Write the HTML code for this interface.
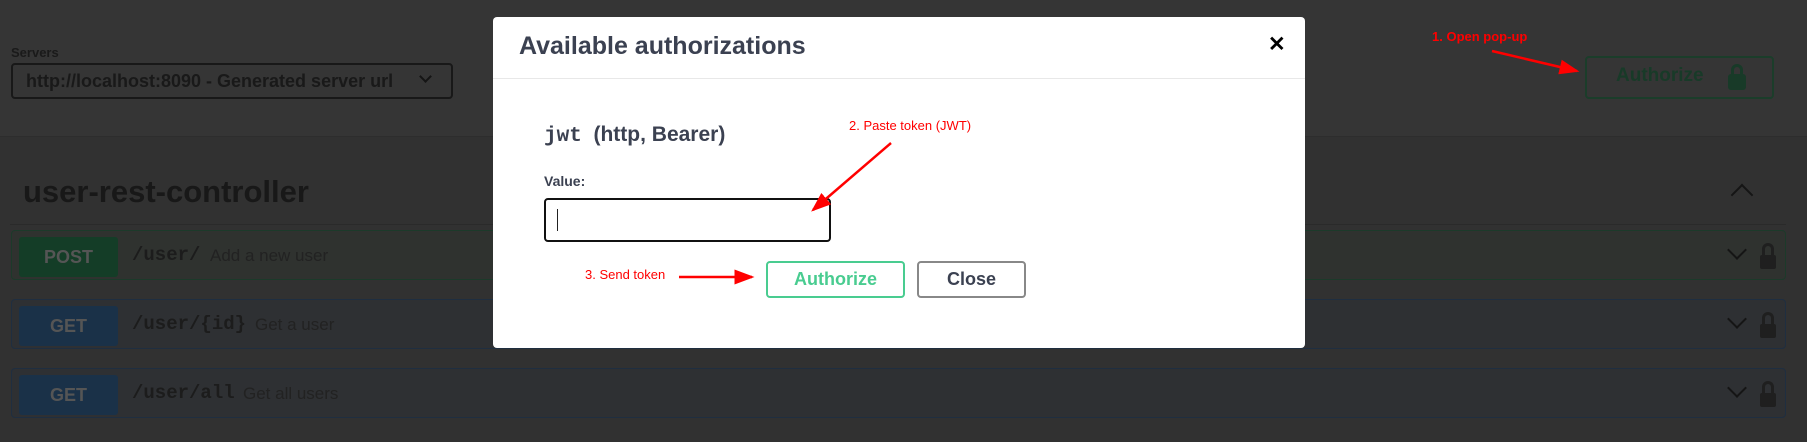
<!DOCTYPE html>
<html><head><meta charset="utf-8"><style>
*{margin:0;padding:0;box-sizing:border-box}
body{width:1807px;height:442px;overflow:hidden;background:#313131;position:relative;font-family:"Liberation Sans",sans-serif}
.a{position:absolute}
.top{left:0;top:0;width:1807px;height:137px;background:#353535;border-bottom:1px solid #2d2d2d}
.row{left:11px;width:1775px;height:50px;border-radius:4px;border:1px solid}
.badge{left:7px;top:6px;width:99px;height:40px;border-radius:3px;color:#555;font-weight:bold;font-size:18px;text-align:center;line-height:40px}
.path{left:120px;top:13px;font-family:"Liberation Mono",monospace;font-weight:bold;font-size:19px;color:#1c1c1c}
.desc{top:15px;font-size:17px;color:#222}
.chev{width:14px;height:14px;border-right:2px solid #151515;border-bottom:2px solid #151515;transform:rotate(45deg)}
.lock{width:16px;height:14px;background:#1f1f1f;border-radius:2px}
.shk{width:12px;height:12px;border:3px solid #1f1f1f;border-bottom:none;border-radius:6px 6px 0 0}
.red{color:#f00;font-size:13px}
</style></head><body>
<div class="a top"></div>
<div class="a" style="left:11px;top:45px;font-size:13px;font-weight:bold;color:#1a1a1a">Servers</div>
<div class="a" style="left:11px;top:63px;width:442px;height:36px;border:2px solid #181818;border-radius:4px"></div>
<div class="a" style="left:26px;top:71px;font-size:18px;font-weight:bold;color:#191919">http://localhost:8090 - Generated server url</div>
<div class="a chev" style="left:421px;top:72px;width:9px;height:9px"></div>

<div class="a" style="left:1585px;top:56px;width:189px;height:43px;border:2px solid #1b3d2a;border-radius:4px"></div>
<div class="a" style="left:1616px;top:65px;font-size:19px;font-weight:bold;color:#183a28">Authorize</div>
<div class="a" style="left:1728px;top:74px;width:18px;height:16px;background:#183a28;border-radius:3px"></div>
<div class="a" style="left:1731px;top:64px;width:12px;height:12px;border:3px solid #183a28;border-bottom:none;border-radius:6px 6px 0 0"></div>

<div class="a" style="left:23px;top:174px;font-size:31px;font-weight:bold;color:#181818">user-rest-controller</div>
<div class="a" style="left:1734px;top:187px;width:16px;height:16px;border-left:2px solid #151515;border-top:2px solid #151515;transform:rotate(45deg)"></div>
<div class="a" style="left:10px;top:224px;width:1776px;height:1px;background:#2a2a2a"></div>

<div class="a row" style="top:230px;border-color:#1c3a2a;background:#2f322f">
 <div class="a badge" style="background:#143d27">POST</div>
 <div class="a path">/user/</div><div class="a desc" style="left:198px">Add a new user</div>
 <div class="a chev" style="left:1718px;top:12px"></div>
 <div class="a lock" style="left:1748px;top:24px"></div><div class="a shk" style="left:1750px;top:12px"></div>
</div>
<div class="a row" style="top:299px;border-color:#1f2e40;background:#2e3033">
 <div class="a badge" style="background:#1a3148">GET</div>
 <div class="a path">/user/{id}</div><div class="a desc" style="left:243px">Get a user</div>
 <div class="a chev" style="left:1718px;top:12px"></div>
 <div class="a lock" style="left:1748px;top:24px"></div><div class="a shk" style="left:1750px;top:12px"></div>
</div>
<div class="a row" style="top:368px;border-color:#1f2e40;background:#2e3033">
 <div class="a badge" style="background:#1a3148">GET</div>
 <div class="a path">/user/all</div><div class="a desc" style="left:231px">Get all users</div>
 <div class="a chev" style="left:1718px;top:12px"></div>
 <div class="a lock" style="left:1748px;top:24px"></div><div class="a shk" style="left:1750px;top:12px"></div>
</div>

<div class="a red" style="left:1432px;top:29px;font-weight:bold">1. Open pop-up</div>

<!-- modal -->
<div class="a" style="left:493px;top:17px;width:812px;height:331px;background:#fff;border-radius:4px"></div>
<div class="a" style="left:519px;top:32px;font-size:25px;font-weight:bold;color:#3b4151">Available authorizations</div>
<div class="a" style="left:1268px;top:32px;font-size:21px;font-weight:bold;color:#000">✕</div>
<div class="a" style="left:493px;top:78px;width:812px;height:1px;background:#e8e8e8"></div>
<div class="a" style="left:544px;top:123px;font-size:21px;font-weight:bold;color:#3b4151"><span style="font-family:'Liberation Mono',monospace">jwt</span>&nbsp; (http, Bearer)</div>
<div class="a" style="left:544px;top:173px;font-size:14px;font-weight:bold;color:#3b4151">Value:</div>
<div class="a" style="left:544px;top:198px;width:287px;height:44px;border:2px solid #111;border-radius:4px"></div>
<div class="a" style="left:557px;top:209px;width:1px;height:22px;background:#222"></div>
<div class="a red" style="left:849px;top:118px">2. Paste token (JWT)</div>
<div class="a red" style="left:585px;top:267px">3. Send token</div>
<div class="a" style="left:766px;top:261px;width:139px;height:37px;border:2px solid #49cc90;border-radius:4px;text-align:center;line-height:33px;font-size:18px;font-weight:bold;color:#49cc90">Authorize</div>
<div class="a" style="left:917px;top:261px;width:109px;height:37px;border:2px solid #888;border-radius:4px;text-align:center;line-height:33px;font-size:18px;font-weight:bold;color:#3b4151">Close</div>

<svg class="a" style="left:0;top:0" width="1807" height="442">
<defs><marker id="m" markerWidth="8" markerHeight="6" refX="7" refY="3" orient="auto" markerUnits="strokeWidth"><path d="M0,0 L8,3 L0,6z" fill="#f00"/></marker></defs>
<g stroke="#f00" fill="none">
<line x1="1492" y1="51" x2="1577" y2="71" marker-end="url(#m)" stroke-width="2.5"/>
<line x1="891" y1="143" x2="813" y2="210" marker-end="url(#m)" stroke-width="2.5"/>
<line x1="679" y1="277" x2="752" y2="277" marker-end="url(#m)" stroke-width="2.5"/>
</g></svg>
</body></html>
